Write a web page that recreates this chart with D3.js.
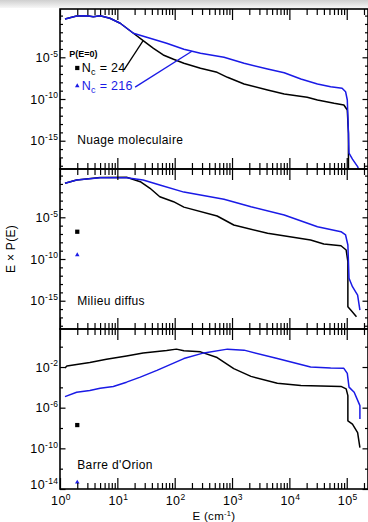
<!DOCTYPE html>
<html><head><meta charset="utf-8">
<script src="https://cdn.jsdelivr.net/npm/d3@7"></script>
<style>
html,body{margin:0;padding:0;background:#fff;}
svg{display:block;font-family:"Liberation Sans",Arial,Helvetica,sans-serif;}
</style></head>
<body><svg id="c" width="368" height="522"></svg>
<script>
// ---- data: [log10 E (cm^-1), log10 E×P(E)] ----
const panelNames = ["Nuage moleculaire", "Milieu diffus", "Barre d'Orion"];
const seriesNames = ["N_c = 24", "N_c = 216"];
const xTickExponents = [0, 1, 2, 3, 4, 5];
const yTickExponents1 = [-5, -10, -15];
const yTickExponents2 = [-5, -10, -15];
const yTickExponents3 = [-2, -6, -10, -14];

const molBlack = [[0.087,-0.41],[0.29,-0.05],[0.47,-0.01],[0.58,-0.13],[0.70,-0.01],[0.87,-0.32],[1.05,-0.92],[1.28,-2.12],
  [1.45,-3.01],[1.63,-3.92],[1.80,-4.72],[1.98,-5.24],[2.16,-5.72],[2.45,-6.32],[2.74,-6.80],[2.92,-7.40],[3.21,-8.20],
  [3.62,-8.92],[3.91,-9.40],[4.31,-9.80],[4.49,-10.12],[4.78,-10.52],[4.95,-10.72],[5.01,-11.32],[5.03,-14.11],[5.03,-19.5]];
const molBlue = [[0.087,-0.41],[0.29,-0.05],[0.47,-0.01],[0.58,-0.13],[0.70,-0.01],[0.87,-0.32],[1.05,-0.92],[1.28,-2.12],
  [1.57,-2.72],[1.86,-3.32],[2.16,-4.04],[2.45,-4.52],[2.86,-5.0],[3.21,-5.72],[3.62,-6.40],[3.91,-6.85],[4.20,-7.60],
  [4.49,-8.20],[4.72,-8.53],[4.92,-8.72],[4.98,-9.12],[5.01,-10.12],[5.03,-14.11],[5.04,-16.5],[5.10,-17.2],[5.19,-18.1],[5.22,-18.7]];
const difBlack = [[0.087,-0.92],[0.29,-0.53],[0.70,-0.22],[1.16,-0.20],[1.40,-0.73],[1.57,-1.52],[1.74,-2.53],[1.98,-3.13],
  [2.16,-3.78],[2.74,-4.84],[3.03,-5.92],[3.62,-6.92],[4.37,-7.72],[4.60,-8.20],[4.90,-8.41],[4.99,-8.92],[5.02,-10.32],
  [5.02,-15.72],[5.07,-16.12],[5.17,-16.92]];
const difBlue = [[0.087,-0.92],[0.29,-0.53],[0.70,-0.25],[1.16,-0.25],[1.45,-0.53],[1.74,-1.13],[2.16,-1.98],[2.86,-2.84],
  [3.33,-3.73],[3.91,-4.72],[4.49,-6.13],[4.90,-6.73],[4.98,-7.12],[5.02,-8.32],[5.04,-12.31],[5.10,-13.32],[5.19,-14.32],[5.23,-16.12]];
const oriBlack = [[0.087,-2.10],[0.12,-1.90],[0.29,-1.76],[0.52,-1.56],[0.81,-1.24],[1.16,-0.91],[1.45,-0.61],[1.86,-0.37],
  [2.03,-0.24],[2.16,-0.41],[2.45,-0.51],[2.74,-1.07],[3.03,-2.16],[3.33,-2.92],[3.79,-3.59],[4.20,-3.81],[4.90,-3.91],
  [4.99,-4.15],[5.02,-4.81],[5.02,-7.29],[5.10,-7.62],[5.19,-8.45],[5.23,-9.94]];
const oriBlue = [[0.087,-4.91],[0.29,-4.48],[0.52,-4.31],[0.70,-4.08],[0.93,-3.91],[1.16,-3.49],[1.40,-2.99],[1.69,-2.33],
  [2.16,-1.17],[2.51,-0.61],[2.92,-0.24],[3.21,-0.34],[3.79,-1.17],[4.37,-2.0],[4.72,-2.10],[4.95,-2.13],[5.01,-2.63],
  [5.04,-3.98],[5.13,-4.48],[5.23,-5.80],[5.23,-7.12]];
// P(E=0) points plotted at E = 2 cm^-1: [black, blue] log10 values
const p0E = 2;
const p0Values = [[-6.28,-8.44],[-6.73,-9.52],[-7.71,-13.34]];
// panel-name vertical anchors (log10 of y value)
const nameLevels = [-14.85, -14.92, -11.58];

// ---- layout ----
const svg = d3.select("#c");
const left = 60, right = 368;
const colors = ["#000000", "#1a1ae6"];
const defs = svg.append("defs");
const grad = defs.append("linearGradient").attr("id","topg").attr("x1",0).attr("x2",0).attr("y1",0).attr("y2",1);
grad.append("stop").attr("offset","0%").attr("stop-color","#cfcfcf");
grad.append("stop").attr("offset","100%").attr("stop-color","#f7f7f7");
svg.append("rect").attr("x",0).attr("y",0).attr("width",368).attr("height",8).attr("fill","url(#topg)");

const x = d3.scaleLog().domain([1, Math.pow(10, 5.371)]).range([left, right]);

const panels = [
  {name: panelNames[0], top: 9, bottom: 169, dom: [-18.39, 0.79], ticks: yTickExponents1, minorStep: 1, series: [molBlack, molBlue], p0: p0Values[0]},
  {name: panelNames[1], top: 169, bottom: 329, dom: [-18.39, 0.79], ticks: yTickExponents2, minorStep: 1, series: [difBlack, difBlue], p0: p0Values[1]},
  {name: panelNames[2], top: 329, bottom: 489, dom: [-14.0, 1.74], ticks: yTickExponents3, minorStep: 2, series: [oriBlack, oriBlue], p0: p0Values[2]}
];

const xMajor = xTickExponents.map(e => Math.pow(10, e));
const xMinor = [];
for (let e = 0; e <= 5; e++) for (let m = 2; m <= 9; m++) { const v = m * Math.pow(10, e); if (v < x.domain()[1]) xMinor.push(v); }

function supLabel(sel, base, exp, fs, sfs) {
  sel.append("tspan").text(base);
  sel.append("tspan").attr("dy", -fs*0.42).attr("font-size", sfs).text(exp);
}

panels.forEach((p, i) => {
  const y = d3.scaleLog().domain([Math.pow(10, p.dom[0]), Math.pow(10, p.dom[1])]).range([p.bottom, p.top]);
  const g = svg.append("g");
  const cid = "clip" + i;
  defs.append("clipPath").attr("id", cid).append("rect")
    .attr("x", left).attr("y", p.top).attr("width", right - left).attr("height", p.bottom - p.top);

  // curves
  const line = d3.line().x(d => x(Math.pow(10, d[0]))).y(d => y(Math.pow(10, d[1])));
  p.series.forEach((s, k) => {
    g.append("path").attr("d", line(s)).attr("fill", "none").attr("stroke", colors[k])
      .attr("stroke-width", 1.5).attr("stroke-linejoin", "round").attr("clip-path", `url(#${cid})`);
  });

  // P(E=0) markers
  g.append("path").attr("d", d3.symbol(d3.symbolSquare, 18)())
    .attr("transform", `translate(${x(p0E)},${y(Math.pow(10, p.p0[0]))})`).attr("fill", colors[0]);
  g.append("path").attr("d", d3.symbol(d3.symbolTriangle, 9)())
    .attr("transform", `translate(${x(p0E)},${y(Math.pow(10, p.p0[1]))})`).attr("fill", colors[1]);

  // axes ticks (inward)
  const tickStyle = a => { a.select(".domain").remove(); a.selectAll("line").attr("stroke", "#000").attr("stroke-width", 1.2); };
  g.append("g").attr("transform", `translate(0,${p.bottom})`).call(d3.axisBottom(x).tickValues(xMajor).tickSize(-11).tickFormat("")).call(tickStyle);
  g.append("g").attr("transform", `translate(0,${p.bottom})`).call(d3.axisBottom(x).tickValues(xMinor).tickSize(-6).tickFormat("")).call(tickStyle);
  g.append("g").attr("transform", `translate(0,${p.top})`).call(d3.axisTop(x).tickValues(xMajor).tickSize(-11).tickFormat("")).call(tickStyle);
  g.append("g").attr("transform", `translate(0,${p.top})`).call(d3.axisTop(x).tickValues(xMinor).tickSize(-6).tickFormat("")).call(tickStyle);

  const yMajor = p.ticks.map(e => Math.pow(10, e));
  const yMinor = [];
  for (let e = Math.ceil(p.dom[0]); e <= Math.floor(p.dom[1]); e += 1) {
    if (p.minorStep === 2 && e % 2 !== 0) continue;
    if (!p.ticks.includes(e)) yMinor.push(Math.pow(10, e));
  }
  g.append("g").attr("transform", `translate(${left},0)`).call(d3.axisLeft(y).tickValues(yMajor).tickSize(-5.5).tickFormat("")).call(tickStyle);
  g.append("g").attr("transform", `translate(${left},0)`).call(d3.axisLeft(y).tickValues(yMinor).tickSize(-3).tickFormat("")).call(tickStyle);
  g.append("g").attr("transform", `translate(${right},0)`).call(d3.axisRight(y).tickValues(yMajor).tickSize(-5.5).tickFormat("")).call(tickStyle);
  g.append("g").attr("transform", `translate(${right},0)`).call(d3.axisRight(y).tickValues(yMinor).tickSize(-3).tickFormat("")).call(tickStyle);

  // frame
  g.append("rect").attr("x", left).attr("y", p.top).attr("width", right - left).attr("height", p.bottom - p.top)
    .attr("fill", "none").attr("stroke", "#000").attr("stroke-width", 1.6);

  // y tick labels
  p.ticks.forEach(e => {
    const ty = Math.min(y(Math.pow(10, e)) + 4.5, p.bottom);
    const t = g.append("text").attr("x", 58.5).attr("y", ty)
      .attr("text-anchor", "end").attr("font-size", 12.5).attr("letter-spacing", 0.4).attr("fill", "#000");
    supLabel(t, "10", e < 0 ? "-" + Math.abs(e) : String(e), 12.5, 8.5);
  });

  // panel name
  g.append("text").attr("x", x(p0E)).attr("y", y(Math.pow(10, nameLevels[i])) + 4.5)
    .attr("font-size", 12).attr("letter-spacing", 0.35).attr("fill", "#000").text(p.name);

  if (i === 0) {
    // legend
    g.append("text").attr("x", x(p0E) - 8).attr("y", y(Math.pow(10, p.p0[0])) - 11)
      .attr("font-size", 9).attr("font-weight", "bold").text("P(E=0)");
    [0, 1].forEach(k => {
      const t = g.append("text").attr("x", x(p0E) + 4.5).attr("y", y(Math.pow(10, p.p0[k])) + 4.5)
        .attr("font-size", 12.5).attr("letter-spacing", 0.3).attr("fill", colors[k]);
      t.append("tspan").text("N");
      t.append("tspan").attr("dy", 3).attr("font-size", 9).text("c");
      t.append("tspan").attr("dy", -3).text(k === 0 ? " =  24" : " =  216");
    });
    // pointer lines
    const pl = [[[1.116, -6.52], [1.45, -3.01]], [[1.31, -8.57], [2.30, -4.27]]];
    pl.forEach((seg, k) => {
      g.append("path").attr("d", line(seg)).attr("stroke", colors[k]).attr("stroke-width", 1.3).attr("fill", "none");
    });
  }
});

// x tick labels
xTickExponents.forEach(e => {
  const t = svg.append("text").attr("x", x(Math.pow(10, e)) + 1).attr("y", 505)
    .attr("text-anchor", "middle").attr("font-size", 12.5).attr("letter-spacing", 0.4).attr("fill", "#000");
  supLabel(t, "10", String(e), 12.5, 8.5);
});
// axis titles
const xt = svg.append("text").attr("x", 214).attr("y", 520).attr("text-anchor", "middle").attr("font-size", 11.5).attr("letter-spacing", 0.3);
xt.append("tspan").text("E (cm");
xt.append("tspan").attr("dy", -4).attr("font-size", 7.5).text("-1");
xt.append("tspan").attr("dy", 4).text(")");
svg.append("text").attr("transform", "translate(15,249) rotate(-90)").attr("text-anchor", "middle")
  .attr("font-size", 12).attr("letter-spacing", 0.3).text("E × P(E)");
</script></body></html>
